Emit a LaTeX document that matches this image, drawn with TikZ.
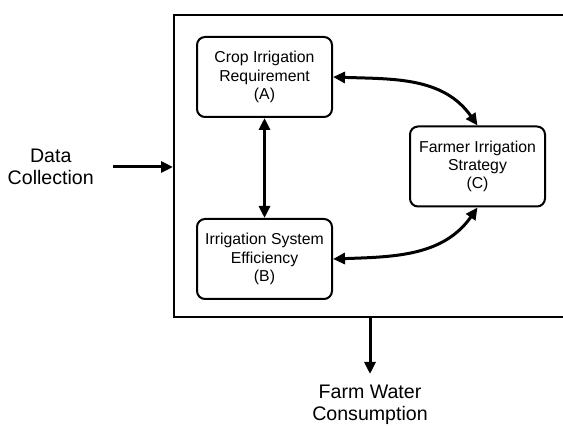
\documentclass[tikz,border=0pt]{standalone}
\usepackage{fontspec}
\setmainfont{Liberation Sans}
\usepackage{tikz}
\usetikzlibrary{positioning}
\usetikzlibrary{arrows.meta}

\tikzset{
	block/.style={draw, rounded corners=8pt, line width=2pt, minimum width=135pt, minimum height=80pt, align=center, font=\fontsize{15.8}{18.3}\selectfont},
	outer/.style={align=center, inner sep=0pt, font=\fontsize{19.6}{21.8}\selectfont},
	flow/.style={line width=3pt, -{Triangle[length=12pt,width=11pt]}},
	twoway/.style={line width=3pt, {Triangle[length=12pt,width=11pt]}-{Triangle[length=12pt,width=11pt]}}
}

\begin{document}
\begin{tikzpicture}
		\useasboundingbox (0,0) rectangle (563pt,426pt);
		\node[draw, line width=2pt, minimum width=392pt, minimum height=302.5pt] (sys) at (370pt,259.75pt) {};
		
		\node[block] (cir) at (264.5pt,349pt) {Crop Irrigation\\Requirement\\(A)};
		\node[block] (ise) [below = 100pt of cir] {Irrigation System\\Efficiency\\(B)};
		\node[block] (fis) at (477.5pt,259.5pt) {Farmer Irrigation\\Strategy\\(C)};
		
		\coordinate (dcout) at (113pt,259pt);
		\node[outer] (dc) [left = 19pt of dcout] {Data\\Collection};
		\coordinate (fwin) at (370pt,52pt);
		\node[outer] (fwc) [below = 11pt of fwin] {Farm Water\\Consumption};
		
		\draw[flow] (dcout) -- (dcout -| sys.west);
		\draw[flow] (sys.south) -- (fwin);
		\draw[twoway] (cir) -- (ise);
		\draw[twoway] (cir.east) to[out=-2,in=125] (fis.north);
		\draw[twoway] (ise.east) to[out=2,in=-125] (fis.south);
	\end{tikzpicture}
\end{document}
